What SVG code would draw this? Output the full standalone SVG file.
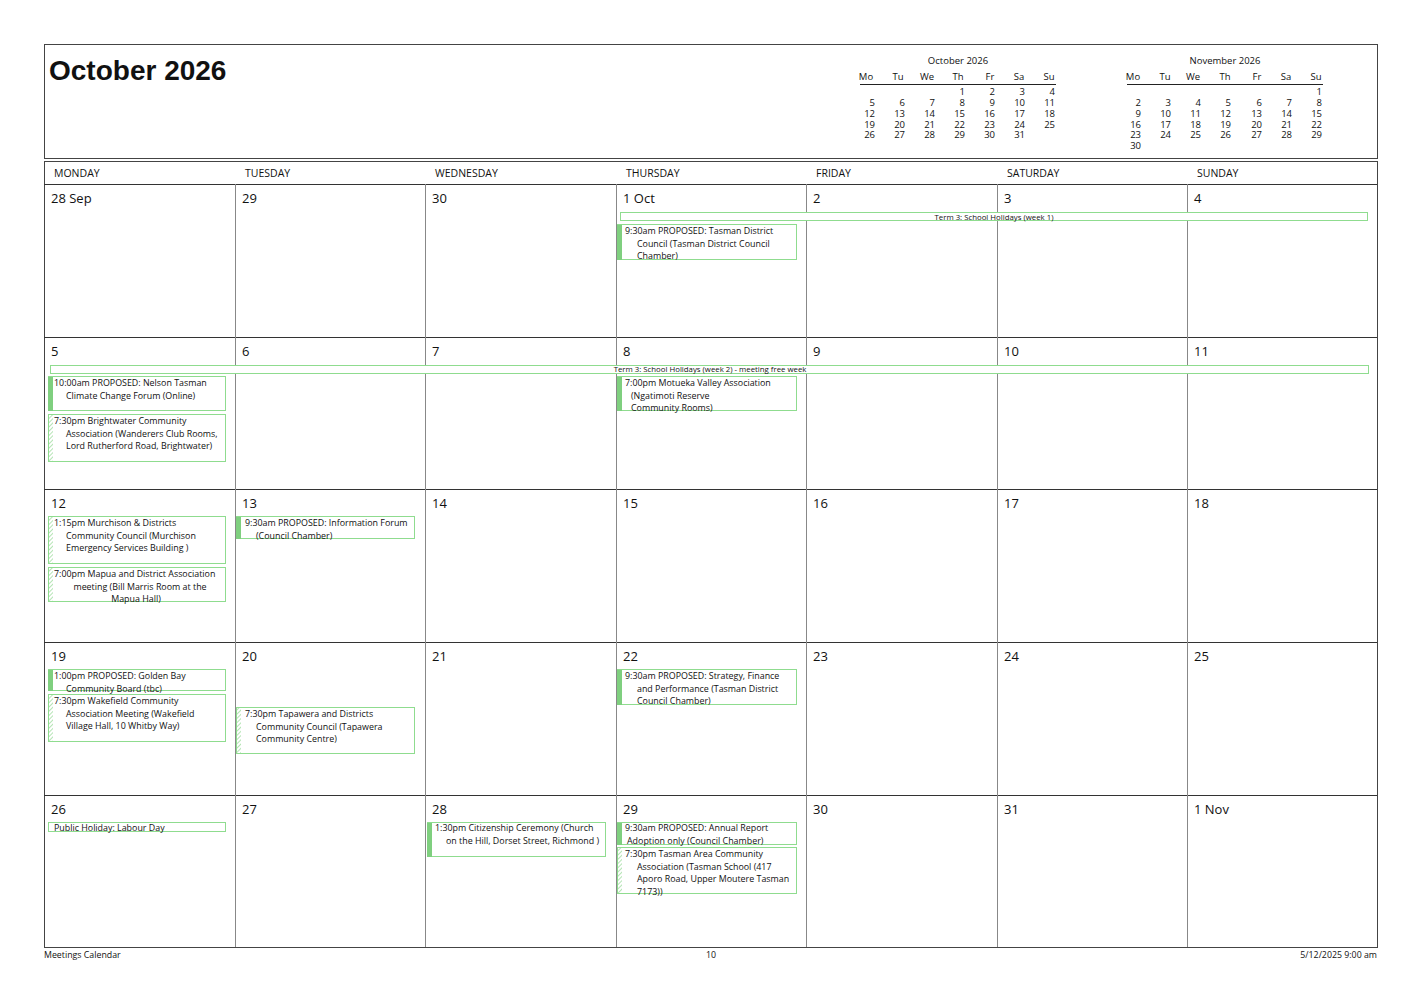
<svg xmlns="http://www.w3.org/2000/svg" width="1421" height="1004" viewBox="0 0 1421 1004">
<style>
text{font-family:"Open Sans","Noto Sans","Liberation Sans",sans-serif;fill:#111}
.t{font-size:28px;font-weight:bold;font-family:"Liberation Sans",Arial,sans-serif}
.m{font-size:9.5px}
.mn{font-size:9.5px;text-anchor:end}
.dh{font-size:10.5px}
.dn{font-size:13px}
.e{font-size:8.9px}
.b{font-size:7.8px;text-anchor:middle}
.f{font-size:8.8px}
.box{fill:#fff;stroke:#8fdc8f;stroke-width:1}
.bar{fill:#7fcf7f}
.hb{fill:url(#h)}
.g{stroke:#888;stroke-width:1}
.r{stroke:#333;stroke-width:1}
</style>
<defs>
<pattern id="h" width="3" height="3" patternUnits="userSpaceOnUse" patternTransform="rotate(45)"><rect width="3" height="3" fill="#fff"/><line x1="0" y1="0" x2="0" y2="3" stroke="#9bdc9b" stroke-width="1.5"/></pattern>
</defs>
<rect width="1421" height="1004" fill="#fff"/>
<g id="header">
<rect x="44.5" y="44.5" width="1333" height="114" fill="none" stroke="#444"/>
<text class="t" x="49" y="80">October 2026</text>
</g>
<g id="mini-oct">
<text class="m" x="958" y="64" text-anchor="middle">October 2026</text>
<g text-anchor="middle" class="m"><text x="866" y="80">Mo</text><text x="898" y="80">Tu</text><text x="927" y="80">We</text><text x="958" y="80">Th</text><text x="990" y="80">Fr</text><text x="1019" y="80">Sa</text><text x="1049" y="80">Su</text></g>
<line x1="860" y1="84.5" x2="1056" y2="84.5" stroke="#222"/>
<g class="mn">
<text x="965" y="95">1</text><text x="995" y="95">2</text><text x="1025" y="95">3</text><text x="1055" y="95">4</text>
<text x="875" y="106">5</text><text x="905" y="106">6</text><text x="935" y="106">7</text><text x="965" y="106">8</text><text x="995" y="106">9</text><text x="1025" y="106">10</text><text x="1055" y="106">11</text>
<text x="875" y="117">12</text><text x="905" y="117">13</text><text x="935" y="117">14</text><text x="965" y="117">15</text><text x="995" y="117">16</text><text x="1025" y="117">17</text><text x="1055" y="117">18</text>
<text x="875" y="127.5">19</text><text x="905" y="127.5">20</text><text x="935" y="127.5">21</text><text x="965" y="127.5">22</text><text x="995" y="127.5">23</text><text x="1025" y="127.5">24</text><text x="1055" y="127.5">25</text>
<text x="875" y="138">26</text><text x="905" y="138">27</text><text x="935" y="138">28</text><text x="965" y="138">29</text><text x="995" y="138">30</text><text x="1025" y="138">31</text>
</g>
</g>
<g id="mini-nov">
<text class="m" x="1225" y="64" text-anchor="middle">November 2026</text>
<g text-anchor="middle" class="m"><text x="1133" y="80">Mo</text><text x="1165" y="80">Tu</text><text x="1193" y="80">We</text><text x="1225" y="80">Th</text><text x="1257" y="80">Fr</text><text x="1286" y="80">Sa</text><text x="1316" y="80">Su</text></g>
<line x1="1127" y1="84.5" x2="1323" y2="84.5" stroke="#222"/>
<g class="mn">
<text x="1322" y="95">1</text>
<text x="1141" y="106">2</text><text x="1171" y="106">3</text><text x="1201" y="106">4</text><text x="1231" y="106">5</text><text x="1262" y="106">6</text><text x="1292" y="106">7</text><text x="1322" y="106">8</text>
<text x="1141" y="117">9</text><text x="1171" y="117">10</text><text x="1201" y="117">11</text><text x="1231" y="117">12</text><text x="1262" y="117">13</text><text x="1292" y="117">14</text><text x="1322" y="117">15</text>
<text x="1141" y="127.5">16</text><text x="1171" y="127.5">17</text><text x="1201" y="127.5">18</text><text x="1231" y="127.5">19</text><text x="1262" y="127.5">20</text><text x="1292" y="127.5">21</text><text x="1322" y="127.5">22</text>
<text x="1141" y="138">23</text><text x="1171" y="138">24</text><text x="1201" y="138">25</text><text x="1231" y="138">26</text><text x="1262" y="138">27</text><text x="1292" y="138">28</text><text x="1322" y="138">29</text>
<text x="1141" y="148.5">30</text>
</g>
</g>
<g id="grid">
<rect x="44.5" y="161.5" width="1333" height="786" fill="none" stroke="#444"/>
<line class="r" x1="44" y1="184.5" x2="1377" y2="184.5"/>
<line class="r" x1="44" y1="337.5" x2="1377" y2="337.5"/>
<line class="r" x1="44" y1="489.5" x2="1377" y2="489.5"/>
<line class="r" x1="44" y1="642.5" x2="1377" y2="642.5"/>
<line class="r" x1="44" y1="795.5" x2="1377" y2="795.5"/>
<g class="g">
<line x1="235.5" y1="184" x2="235.5" y2="947"/><line x1="425.5" y1="184" x2="425.5" y2="947"/><line x1="616.5" y1="184" x2="616.5" y2="947"/><line x1="806.5" y1="184" x2="806.5" y2="947"/><line x1="997.5" y1="184" x2="997.5" y2="947"/><line x1="1187.5" y1="184" x2="1187.5" y2="947"/>
</g>
<g class="dh"><text x="54" y="177">MONDAY</text><text x="245" y="177">TUESDAY</text><text x="435" y="177">WEDNESDAY</text><text x="626" y="177">THURSDAY</text><text x="816" y="177">FRIDAY</text><text x="1007" y="177">SATURDAY</text><text x="1197" y="177">SUNDAY</text></g>
<g class="dn">
<text x="51" y="203">28 Sep</text><text x="242" y="203">29</text><text x="432" y="203">30</text><text x="623" y="203">1 Oct</text><text x="813" y="203">2</text><text x="1004" y="203">3</text><text x="1194" y="203">4</text>
<text x="51" y="356">5</text><text x="242" y="356">6</text><text x="432" y="356">7</text><text x="623" y="356">8</text><text x="813" y="356">9</text><text x="1004" y="356">10</text><text x="1194" y="356">11</text>
<text x="51" y="508">12</text><text x="242" y="508">13</text><text x="432" y="508">14</text><text x="623" y="508">15</text><text x="813" y="508">16</text><text x="1004" y="508">17</text><text x="1194" y="508">18</text>
<text x="51" y="661">19</text><text x="242" y="661">20</text><text x="432" y="661">21</text><text x="623" y="661">22</text><text x="813" y="661">23</text><text x="1004" y="661">24</text><text x="1194" y="661">25</text>
<text x="51" y="814">26</text><text x="242" y="814">27</text><text x="432" y="814">28</text><text x="623" y="814">29</text><text x="813" y="814">30</text><text x="1004" y="814">31</text><text x="1194" y="814">1 Nov</text>
</g>
</g>
<g id="banners">
<rect class="box" x="620.5" y="212.5" width="747" height="8"/><text class="b" x="994" y="219.5">Term 3: School Holidays (week 1)</text>
<rect class="box" x="50.5" y="365.5" width="1318" height="8"/><text class="b" x="710" y="372">Term 3: School Holidays (week 2) - meeting free week</text>
</g>
<g id="ev1"><rect class="box" x="617.5" y="224.5" width="179" height="35"/><rect class="bar" x="617" y="225" width="5" height="35"/><text class="e" x="625" y="234">9:30am PROPOSED: Tasman District</text><text class="e" x="637" y="246.5">Council  (Tasman District Council</text><text class="e" x="637" y="259">Chamber)</text></g>
<g id="ev2"><rect class="box" x="48.5" y="376.5" width="177" height="34"/><rect class="bar" x="48" y="377" width="5" height="34"/><text class="e" x="54" y="386">10:00am PROPOSED: Nelson Tasman</text><text class="e" x="66" y="398.5">Climate Change Forum  (Online)</text></g>
<g id="ev3"><rect class="box" x="48.5" y="414.5" width="177" height="47"/><rect class="hb" x="49" y="415" width="4" height="46"/><text class="e" x="54" y="424">7:30pm Brightwater Community</text><text class="e" x="66" y="436.5">Association  (Wanderers Club Rooms,</text><text class="e" x="66" y="449">Lord Rutherford Road, Brightwater)</text></g>
<g id="ev4"><rect class="box" x="617.5" y="376.5" width="179" height="34"/><rect class="bar" x="617" y="377" width="5" height="34"/><text class="e" x="625" y="386">7:00pm Motueka Valley Association</text><text class="e" x="631" y="398.5">(Ngatimoti Reserve</text><text class="e" x="631" y="411">Community Rooms)</text></g>
<g id="ev5"><rect class="box" x="48.5" y="516.5" width="177" height="47"/><rect class="hb" x="49" y="517" width="4" height="46"/><text class="e" x="54" y="526">1:15pm Murchison &amp; Districts</text><text class="e" x="66" y="538.5">Community Council  (Murchison</text><text class="e" x="66" y="551">Emergency Services Building )</text></g>
<g id="ev6"><rect class="box" x="48.5" y="567.5" width="177" height="34"/><rect class="hb" x="49" y="568" width="4" height="33"/><text class="e" x="54" y="577">7:00pm Mapua and District Association</text><text class="e" x="140" y="589.5" text-anchor="middle">meeting  (Bill Marris Room at the</text><text class="e" x="136" y="602" text-anchor="middle">Mapua Hall)</text></g>
<g id="ev7"><rect class="box" x="236.5" y="516.5" width="178" height="22"/><rect class="bar" x="236" y="517" width="5" height="22"/><text class="e" x="245" y="526">9:30am PROPOSED: Information Forum</text><text class="e" x="256" y="538.5">(Council Chamber)</text></g>
<g id="ev8"><rect class="box" x="48.5" y="669.5" width="177" height="21"/><rect class="bar" x="48" y="670" width="5" height="21"/><text class="e" x="54" y="679">1:00pm PROPOSED: Golden Bay</text><text class="e" x="66" y="691.5">Community Board (tbc)</text></g>
<g id="ev9"><rect class="box" x="48.5" y="694.5" width="177" height="47"/><rect class="hb" x="49" y="695" width="4" height="46"/><text class="e" x="54" y="704">7:30pm Wakefield Community</text><text class="e" x="66" y="716.5">Association Meeting  (Wakefield</text><text class="e" x="66" y="729">Village Hall, 10 Whitby Way)</text></g>
<g id="ev10"><rect class="box" x="236.5" y="707.5" width="178" height="46"/><rect class="hb" x="237" y="708" width="4" height="45"/><text class="e" x="245" y="717">7:30pm Tapawera and Districts</text><text class="e" x="256" y="729.5">Community Council  (Tapawera</text><text class="e" x="256" y="742">Community Centre)</text></g>
<g id="ev11"><rect class="box" x="617.5" y="669.5" width="179" height="35"/><rect class="bar" x="617" y="670" width="5" height="35"/><text class="e" x="625" y="679">9:30am PROPOSED: Strategy, Finance</text><text class="e" x="637" y="691.5">and Performance  (Tasman District</text><text class="e" x="637" y="704">Council Chamber)</text></g>
<g id="ev12"><rect class="box" x="48.5" y="822.5" width="177" height="9"/><text class="e" x="54" y="831">Public Holiday: Labour Day</text></g>
<g id="ev13"><rect class="box" x="427.5" y="822.5" width="178" height="34"/><rect class="bar" x="427" y="823" width="5" height="34"/><text class="e" x="435" y="831">1:30pm Citizenship Ceremony  (Church</text><text class="e" x="446" y="843.5">on the Hill, Dorset Street, Richmond )</text></g>
<g id="ev14"><rect class="box" x="617.5" y="822.5" width="179" height="22"/><rect class="bar" x="617" y="823" width="5" height="22"/><text class="e" x="625" y="831">9:30am PROPOSED: Annual Report</text><text class="e" x="627" y="843.5">Adoption only (Council Chamber)</text></g>
<g id="ev15"><rect class="box" x="617.5" y="847.5" width="179" height="46"/><rect class="hb" x="618" y="848" width="4" height="45"/><text class="e" x="625" y="857">7:30pm Tasman Area Community</text><text class="e" x="637" y="869.5">Association  (Tasman School (417</text><text class="e" x="637" y="882">Aporo Road, Upper Moutere  Tasman</text><text class="e" x="637" y="894.5">7173))</text></g>
<g id="footer"><text class="f" x="44" y="958">Meetings Calendar</text><text class="f" x="711" y="958" text-anchor="middle">10</text><text class="f" x="1377" y="958" text-anchor="end">5/12/2025 9:00 am</text></g>
</svg>
